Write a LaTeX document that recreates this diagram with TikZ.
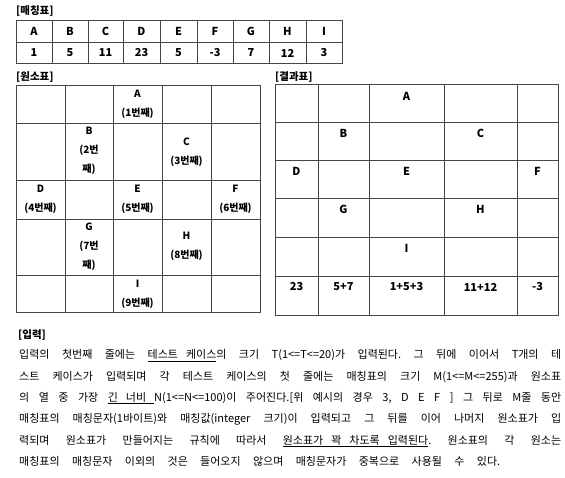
\documentclass[tikz,border=0pt]{standalone}
\usepackage{fontspec}
\setmainfont{Noto Sans CJK KR}
\usepackage{tikz}
\newcommand{\tul}{\underline}
\newcommand{\bodyfont}{\fontsize{11}{13}\selectfont\frenchspacing\spaceskip=8pt plus 6pt minus 3pt\relax}

\begin{document}
\begin{tikzpicture}[x=1pt,y=-1pt,
  tabline/.style={draw=black!72, line width=0.9pt},
  cell/.style={font=\fontsize{11}{13}\selectfont\bfseries, inner sep=0pt},
  elem/.style={font=\fontsize{10}{19}\selectfont\bfseries, align=center, inner sep=0pt},
  title/.style={font=\fontsize{10.5}{12}\selectfont\bfseries, anchor=west, inner sep=0pt},
  bodyline/.style={font=\bodyfont, anchor=base west, inner sep=0pt}]
\useasboundingbox[fill=white] (0,0) rectangle (565,478);

% titles
\node[title] (t-match) at (16,11) {[매칭표]};
\node[title] (t-elem) at (16,77) {[원소표]};
\node[title] (t-res) at (275,77) {[결과표]};
\node[title] (t-in) at (18,335) {[입력]};

% matching table
\draw[tabline] (16,20) rectangle (342,63);
\draw[tabline] (16,42) -- (342,42);
\draw[tabline] (52,20) -- (52,63) (88,20) -- (88,63) (123,20) -- (123,63)
  (160,20) -- (160,63) (197,20) -- (197,63) (233,20) -- (233,63)
  (269,20) -- (269,63) (306,20) -- (306,63);
\path
(34,31) node[cell] (mA) {A}      (34,53) node[cell] (vA) {1}
(70,31) node[cell] (mB) {B}      (70,53) node[cell] (vB) {5}
(105.5,31) node[cell] (mC) {C}   (105.5,53) node[cell] (vC) {11}
(141.5,31) node[cell] (mD) {D}   (141.5,53) node[cell] (vD) {23}
(178.5,31) node[cell] (mE) {E}   (178.5,53) node[cell] (vE) {5}
(215,31) node[cell] (mF) {F}     (215,53) node[cell] (vF) {-3}
(251,31) node[cell] (mG) {G}     (251,53) node[cell] (vG) {7}
(287.5,31) node[cell] (mH) {H}   (287.5,53) node[cell] (vH) {12}
(324,31) node[cell] (mI) {I}     (324,53) node[cell] (vI) {3}
;

% element table
\draw[tabline] (16,85) rectangle (260,312);
\draw[tabline] (16,123) -- (260,123) (16,180) -- (260,180)
  (16,219) -- (260,219) (16,275) -- (260,275);
\draw[tabline] (65,85) -- (65,312) (113,85) -- (113,312)
  (162,85) -- (162,312) (211,85) -- (211,312);
\path
(137.5,104.5) node[elem] (eA) {A\\(1번째)}
(89,151) node[elem] (eB) {B\\(2번\\째)}
(186.5,152.5) node[elem] (eC) {C\\(3번째)}
(40.5,199) node[elem] (eD) {D\\(4번째)}
(137.5,199) node[elem] (eE) {E\\(5번째)}
(235.5,199) node[elem] (eF) {F\\(6번째)}
(89,246.5) node[elem] (eG) {G\\(7번\\째)}
(186.5,246.5) node[elem] (eH) {H\\(8번째)}
(137.5,294) node[elem] (eI) {I\\(9번째)}
;

% result table
\draw[tabline] (275,84) rectangle (558,315);
\draw[tabline] (275,122) -- (558,122) (275,160) -- (558,160)
  (275,198) -- (558,198) (275,237) -- (558,237) (275,276) -- (558,276);
\draw[tabline] (318,84) -- (318,315) (369,84) -- (369,315)
  (444,84) -- (444,315) (517,84) -- (517,315);
\path
(406.5,96) node[cell] (rA) {A}
(343.5,133) node[cell] (rB) {B}   (480.5,133) node[cell] (rC) {C}
(296.5,171) node[cell] (rD) {D}   (406.5,171) node[cell] (rE) {E}
(537.5,171) node[cell] (rF) {F}
(343.5,209) node[cell] (rG) {G}   (480.5,209) node[cell] (rH) {H}
(406.5,248) node[cell] (rI) {I}
(296.5,287) node[cell] (s1) {23}  (343.5,287) node[cell] (s2) {5+7}
(406.5,287) node[cell] (s3) {1+5+3} (480.5,287) node[cell] (s4) {11+12}
(537.5,287) node[cell] (s5) {-3}
;

% input text
\node[bodyline] (l1) at (19,359) {\makebox[542pt][s]{입력의 첫번째 줄에는 \tul{테스트 케이스}의 크기 T(1<=T<=20)가 입력된다. 그 뒤에 이어서 T개의 테}};
\node[bodyline] (l2) at (19,380) {\makebox[542pt][s]{스트 케이스가 입력되며 각 테스트 케이스의 첫 줄에는 매칭표의 크기 M(1<=M<=255)과 원소표}};
\node[bodyline] (l3) at (19,401) {\makebox[542pt][s]{의 열 중 가장 \tul{긴 너비 }N(1<=N<=100)이 주어진다.[위 예시의 경우 3, D E F ] 그 뒤로 M줄 동안}};
\node[bodyline] (l4) at (19,422) {\makebox[542pt][s]{매칭표의 매칭문자(1바이트)와 매칭값(integer 크기)이 입력되고 그 뒤를 이어 나머지 원소표가 입}};
\node[bodyline] (l5) at (19,444) {\makebox[542pt][s]{력되며 원소표가 만들어지는 규칙에 따라서 \tul{원소표가 꽉 차도록 입력된다}. 원소표의 각 원소는}};
\node[bodyline] (l6) at (19,465) {\makebox[481pt][s]{매칭표의 매칭문자 이외의 것은 들어오지 않으며 매칭문자가 중복으로 사용될 수 있다.}};
\end{tikzpicture}
\end{document}
